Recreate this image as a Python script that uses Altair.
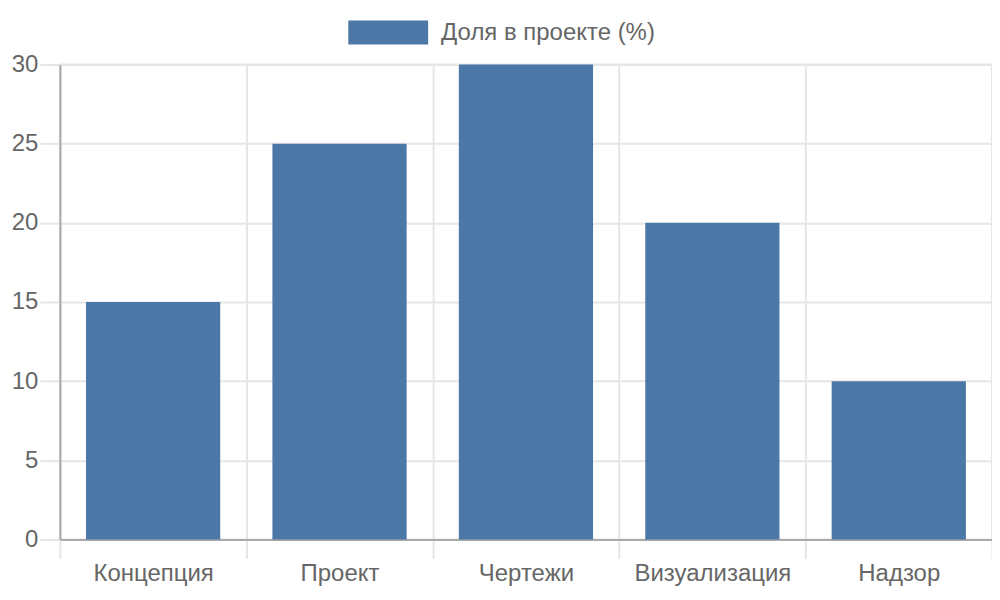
import altair as alt
import pandas as pd

categories = ["Концепция", "Проект", "Чертежи", "Визуализация", "Надзор"]
values = [15, 25, 30, 20, 10]
series_name = "Доля в проекте (%)"
y_ticks = [0, 5, 10, 15, 20, 25, 30]

df = pd.DataFrame({"category": categories, "value": values, "series": [series_name] * len(categories)})

FONT = "Liberation Sans"
TXT = "#666666"
GRID = "#e6e6e6"
AXIS = "#aaaaaa"
FS = 24

rect_path = "M-1,-0.3L1,-0.3L1,0.3L-1,0.3Z"

chart = alt.Chart(df).mark_bar(width=alt.RelativeBandSize(0.72)).encode(
    x=alt.X(
        "category:N",
        sort=categories,
        title=None,
        scale=alt.Scale(paddingInner=0, paddingOuter=0),
        axis=alt.Axis(
            tickBand="extent", labelAngle=0, grid=True, gridColor=GRID, gridWidth=2,
            domainColor=AXIS, domainWidth=2, tickColor=GRID, tickWidth=2, tickSize=19,
            labelFont=FONT, labelFontSize=FS, labelColor=TXT, labelPadding=3,
        ),
    ),
    y=alt.Y(
        "value:Q",
        title=None,
        scale=alt.Scale(domain=[0, 30], nice=False),
        axis=alt.Axis(
            values=y_ticks, grid=True, gridColor=GRID, gridWidth=2,
            domainColor=AXIS, domainWidth=2,
            tickColor=GRID, tickWidth=2, tickSize=20, labelFont=FONT, labelFontSize=FS,
            labelColor=TXT, labelPadding=2,
        ),
    ),
    color=alt.Color(
        "series:N",
        scale=alt.Scale(range=["#4c78a8"]),
        legend=alt.Legend(
            title=None, orient="none", legendX=289, legendY=-72, padding=0,
            symbolType=rect_path, symbolSize=6400, symbolStrokeWidth=0,
            symbolOpacity=1, labelFont=FONT, labelFontSize=FS, labelColor=TXT,
            labelOffset=13, labelLimit=0,
        ),
    ),
).properties(
    width=934,
    height=476,
    autosize=alt.AutoSizeParams(type="none"),
    padding={"left": 52, "top": 56, "right": 0, "bottom": 52},
).configure_view(stroke=GRID, strokeWidth=2)

chart.save("out.html", embed_options={"renderer": "svg", "actions": False})
